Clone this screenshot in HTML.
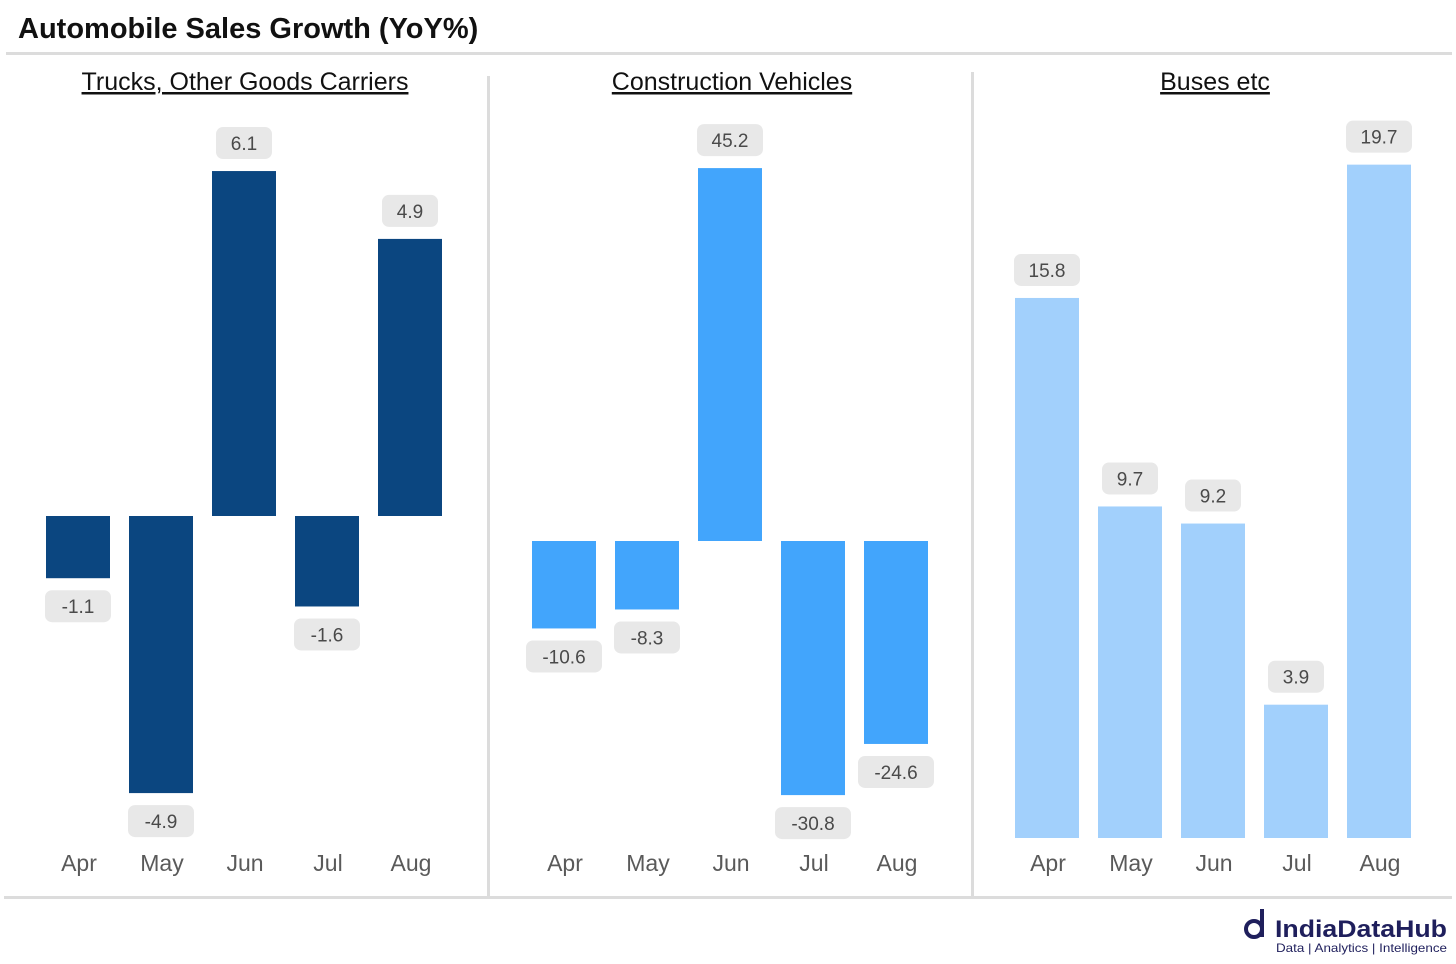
<!DOCTYPE html>
<html><head><meta charset="utf-8"><style>
body{margin:0;background:#fff;font-family:"Liberation Sans",sans-serif;}
svg{display:block}
</style></head><body>
<svg width="1456" height="964" id="svg">
<text x="18" y="38" font-size="29" font-weight="bold" fill="#111">Automobile Sales Growth (YoY%)</text>
<rect x="6" y="52" width="1446" height="3" fill="#dcdcdc"/>
<rect x="4" y="896" width="1448" height="3" fill="#dcdcdc"/>
<rect x="487" y="76" width="3" height="820" fill="#dcdcdc"/>
<rect x="971" y="72" width="3" height="824" fill="#dcdcdc"/>
<g>
<circle cx="1254" cy="929" r="8" fill="none" stroke="#1f1f5c" stroke-width="4"/>
<rect x="1260" y="909" width="4" height="28" fill="#1f1f5c"/>
<text x="1275" y="937" font-size="24" font-weight="bold" fill="#1f1f5c" textLength="172" lengthAdjust="spacingAndGlyphs">IndiaDataHub</text>
<text x="1276" y="952" font-size="12" fill="#1f1f5c" textLength="171" lengthAdjust="spacingAndGlyphs">Data | Analytics | Intelligence</text>
</g>
</svg>
<script>
const months=["Apr","May","Jun","Jul","Aug"];
const titles=["Trucks, Other Goods Carriers","Construction Vehicles","Buses etc"];
const trucks=[-1.1,-4.9,6.1,-1.6,4.9];
const construction=[-10.6,-8.3,45.2,-30.8,-24.6];
const buses=[15.8,9.7,9.2,3.9,19.7];
const NS="http://www.w3.org/2000/svg",svg=document.getElementById('svg');
function mk(t,a,p){const e=document.createElementNS(NS,t);for(const k in a)e.setAttribute(k,a[k]);(p||svg).appendChild(e);return e;}
const panels=[
 {vals:trucks,x0:46,zero:516,scale:56.55,color:"#0b4680",cx:245},
 {vals:construction,x0:532,zero:541,scale:8.25,color:"#42a5fc",cx:732},
 {vals:buses,x0:1015,zero:838,scale:34.18,color:"#a2d0fc",cx:1215}];
panels.forEach((p,pi)=>{
 const g=mk('g',{});
 
 
 const t=mk('text',{x:p.cx,y:90,'font-size':25,'text-anchor':'middle','text-decoration':'underline',fill:'#111'},g);
 t.textContent=titles[pi];
 
 
 const y=v=>p.zero-v*p.scale;
 p.vals.forEach((v,i)=>{
  const x=p.x0+i*83,w=64;
  const top=Math.min(y(v),p.zero),h=Math.abs(y(v)-p.zero);
  const r=mk('rect',{x:x,y:top,width:w,height:h,fill:p.color},g);
  
  
  const lbl=v.toFixed(1);
  const bw=lbl.length*10+26;
  const by=v>=0?y(v)-44:y(v)+12;
  const b=mk('rect',{x:x+w/2-bw/2,y:by,width:bw,height:32,rx:7,fill:'#e8e8e8'},g);
  
  
  const tt=mk('text',{x:x+w/2,y:by+23,'font-size':19,'text-anchor':'middle',fill:'#4a4a4a'},g);
  tt.textContent=lbl;
  
  
  const xl=mk('text',{x:x+w/2+1,y:871,'font-size':23,'text-anchor':'middle',fill:'#5a5a5a'},g);
  xl.textContent=months[i];
  
  
 });
});
</script>
</body></html>
